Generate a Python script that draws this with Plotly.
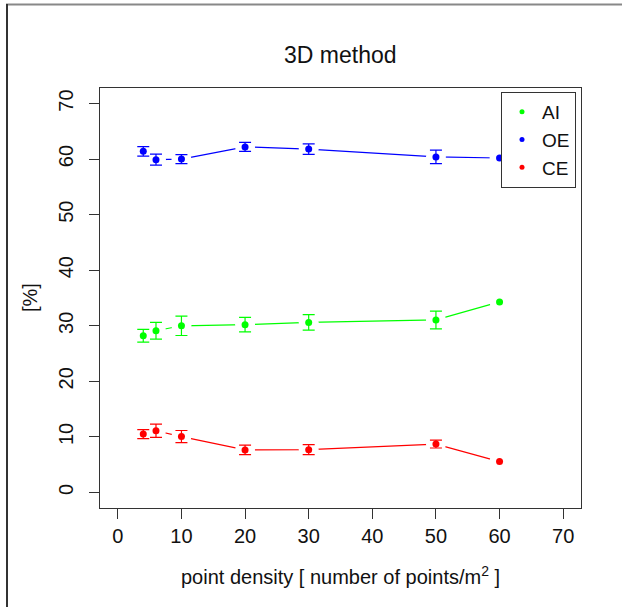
import plotly.graph_objects as go

density = [4, 6, 10, 20, 30, 50, 60]

ai_mean = [28.2, 29.1, 30.0, 30.2, 30.6, 31.05, 34.3]
ai_err = [1.15, 1.5, 1.75, 1.3, 1.4, 1.6, 0]
oe_mean = [61.4, 59.9, 60.0, 62.2, 61.8, 60.4, 60.2]
oe_err = [0.85, 1.0, 0.8, 0.8, 0.95, 1.2, 0]
ce_mean = [10.5, 11.1, 10.05, 7.65, 7.7, 8.7, 5.55]
ce_err = [0.8, 1.2, 1.1, 0.85, 0.9, 0.7, 0]

series = [
    ("AI", ai_mean, ai_err, "#00FF00"),
    ("OE", oe_mean, oe_err, "#0000FF"),
    ("CE", ce_mean, ce_err, "#FF0000"),
]

x_ticks = [0, 10, 20, 30, 40, 50, 60, 70]
y_ticks = [0, 10, 20, 30, 40, 50, 60, 70]

FONT = "Liberation Sans, Arial, sans-serif"

fig = go.Figure()

# connecting lines
for name, m, e, c in series:
    fig.add_trace(go.Scatter(x=density, y=m, mode="lines",
                             line=dict(color=c, width=1.2),
                             showlegend=False, hoverinfo="skip"))
# white gaps around points (R type="b")
for name, m, e, c in series:
    fig.add_trace(go.Scatter(x=density, y=m, mode="markers",
                             marker=dict(color="white", size=20, line=dict(width=0)),
                             showlegend=False, hoverinfo="skip"))
# error bars (only where an error exists)
for name, m, e, c in series:
    xs = [d for d, v in zip(density, e) if v > 0]
    ys = [mm for mm, v in zip(m, e) if v > 0]
    es = [v for v in e if v > 0]
    fig.add_trace(go.Scatter(x=xs, y=ys, mode="markers",
                             marker=dict(color=c, size=1, opacity=0),
                             error_y=dict(type="data", array=es, visible=True,
                                          color=c, thickness=1.2, width=6),
                             showlegend=False, hoverinfo="skip"))
# points
for name, m, e, c in series:
    fig.add_trace(go.Scatter(x=density, y=m, mode="markers",
                             marker=dict(color=c, size=7),
                             showlegend=False, name=name))
# legend entries
for name, m, e, c in series:
    fig.add_trace(go.Scatter(x=[None], y=[None], mode="markers",
                             marker=dict(color=c, size=5),
                             name=name, showlegend=True))

L, R, T, B = 100, 41, 88, 99
W, H = 622, 607
pw, ph = W - L - R, H - T - B

def px_x(px):
    return (px - L) / pw

def px_y(py):
    return (H - B - py) / ph

axis_common = dict(
    showline=True, linecolor="#333333", linewidth=1, mirror=True,
    ticks="outside", ticklen=10, tickcolor="#333333", tickwidth=1,
    showgrid=False, zeroline=False,
    tickfont=dict(family=FONT, size=20, color="#111111"),
)

fig.update_layout(
    width=W, height=H,
    margin=dict(l=L, r=R, t=T, b=B),
    paper_bgcolor="white", plot_bgcolor="white",
    xaxis=dict(range=[-2.8, 72.8], tickvals=x_ticks, **axis_common),
    yaxis=dict(range=[-2.8, 72.8], tickvals=y_ticks, tickangle=-90,
               ticklabelstandoff=8, **axis_common),
    legend=dict(x=px_x(576), y=px_y(92), xanchor="right", yanchor="top",
                bordercolor="#333333", borderwidth=1, bgcolor="white",
                font=dict(family=FONT, size=19, color="#111111"),
                itemwidth=30),
    showlegend=True,
    annotations=[
        dict(text="3D method", x=0.5, y=px_y(55), xref="paper", yref="paper",
             showarrow=False, xanchor="center", yanchor="middle",
             font=dict(family=FONT, size=23, color="#111111")),
        dict(text="point density [ number of points/m<sup>2</sup> ]",
             x=0.5, y=px_y(575), xref="paper", yref="paper",
             showarrow=False, xanchor="center", yanchor="middle",
             font=dict(family=FONT, size=20, color="#111111")),
        dict(text="[%]", x=px_x(30), y=0.5, xref="paper", yref="paper",
             showarrow=False, xanchor="center", yanchor="middle", textangle=-90,
             font=dict(family=FONT, size=20, color="#111111")),
    ],
    shapes=[
        dict(type="line", xref="paper", yref="paper",
             x0=px_x(6), x1=px_x(622), y0=px_y(4.5), y1=px_y(4.5),
             line=dict(color="#888888", width=2)),
        dict(type="line", xref="paper", yref="paper",
             x0=px_x(7), x1=px_x(7), y0=px_y(4), y1=px_y(607),
             line=dict(color="#333333", width=2)),
    ],
)

fig.write_html("out.html", config={"displayModeBar": False})

# keep the page free of margins / scrollbars
with open("out.html", "r", encoding="utf-8") as f:
    html = f.read()
html = html.replace("<head>", "<head><style>html,body{margin:0;padding:0;overflow:hidden;}</style>", 1)
with open("out.html", "w", encoding="utf-8") as f:
    f.write(html)
